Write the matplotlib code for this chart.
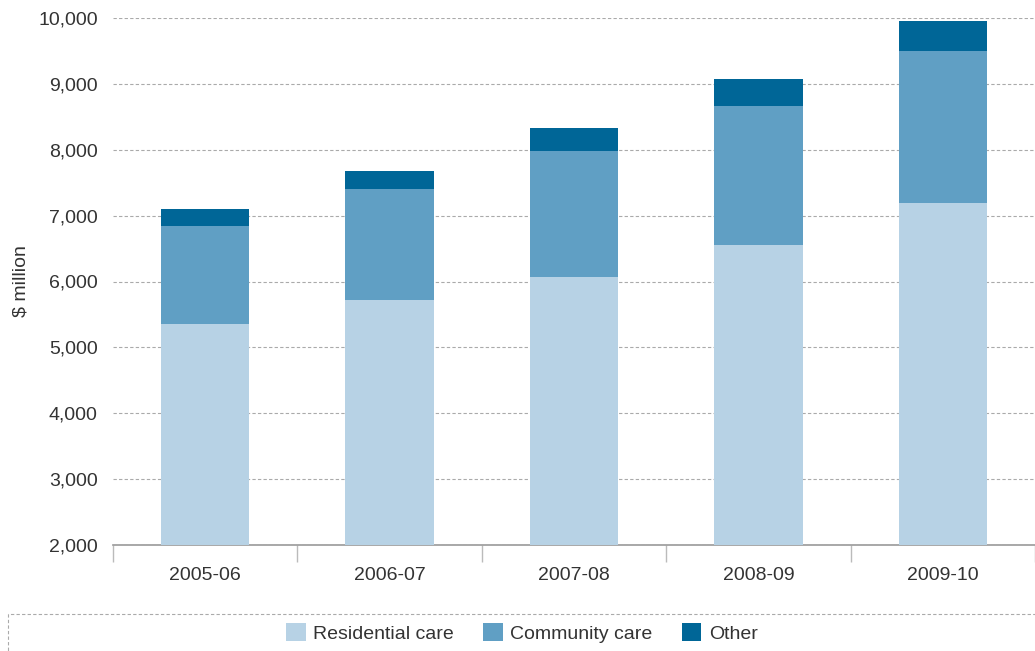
import matplotlib
matplotlib.use("Agg")
import matplotlib.pyplot as plt
import numpy as np
from matplotlib.patches import Rectangle
from matplotlib.ticker import FuncFormatter, FixedLocator

# Aged care expenditure, $ million
years = ["2005-06", "2006-07", "2007-08", "2008-09", "2009-10"]
residential = [5355, 5719, 6068, 6554, 7192]
community = [1488, 1685, 1913, 2110, 2307]
other = [257, 273, 349, 410, 455]

colors = {
    "Residential care": "#b7d2e5",
    "Community care": "#609fc4",
    "Other": "#006697",
}

plt.rcParams["font.family"] = ["Liberation Sans", "DejaVu Sans"]
text_color = "#333333"
fs = 14

fig = plt.figure(figsize=(10.35, 6.51), dpi=100)
ax = fig.add_axes([113 / 1035, 1 - 545 / 651, 1 - 113 / 1035, (545 - 18) / 651])

x = np.arange(len(years))
width = 0.48
base = np.full(len(years), 2000.0)
res = np.array(residential, dtype=float)
com = np.array(community, dtype=float)
oth = np.array(other, dtype=float)

ax.bar(x, res - 2000, width, bottom=base, color=colors["Residential care"],
       label="Residential care", zorder=3)
ax.bar(x, com, width, bottom=res, color=colors["Community care"],
       label="Community care", zorder=3)
ax.bar(x, oth, width, bottom=res + com, color=colors["Other"],
       label="Other", zorder=3)

ax.set_xlim(-0.5, len(years) - 0.5)
ax.set_ylim(2000, 10000)
ax.set_yticks(np.arange(2000, 10001, 1000))
ax.yaxis.set_major_formatter(FuncFormatter(lambda v, p: f"{int(v):,}"))
ax.yaxis.grid(True, color="#aaaaaa", linestyle=(0, (3, 2)), linewidth=0.8, zorder=0)
ax.tick_params(axis="y", length=0, pad=11, labelsize=fs, labelcolor=text_color)

# category labels centred, tick marks on the boundaries
ax.set_xticks(x)
ax.set_xticklabels(years)
ax.tick_params(axis="x", which="major", length=0, pad=16, labelsize=fs,
               labelcolor=text_color)
ax.xaxis.set_minor_locator(FixedLocator(np.arange(-0.5, len(years), 1.0)))
ax.tick_params(axis="x", which="minor", length=12, width=1, color="#bbbbbb")

for side in ["left", "right", "top"]:
    ax.spines[side].set_visible(False)
ax.spines["bottom"].set_color("#999999")
ax.spines["bottom"].set_linewidth(1.2)

ax.set_ylabel("$ million", fontsize=fs, color=text_color)
ax.yaxis.set_label_coords(-0.091, 0.5)

# dashed frame around the legend strip
frame = Rectangle((8 / 1035, -0.05), 1.1, (651 - 614) / 651 + 0.05,
                  transform=fig.transFigure, fill=False, edgecolor="#aaaaaa",
                  linestyle=(0, (3, 2)), linewidth=0.8, clip_on=False)
fig.patches.append(frame)

fig.legend(loc="center", bbox_to_anchor=(522 / 1035, 1 - 633 / 651), ncol=3,
           frameon=False, fontsize=fs, labelcolor=text_color,
           handlelength=1.0, handleheight=1.0, handletextpad=0.4,
           columnspacing=1.5)

fig.savefig("out.png", dpi=100)
